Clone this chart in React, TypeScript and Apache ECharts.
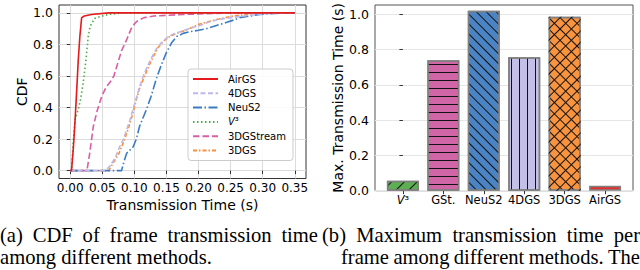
import React, { useEffect, useRef } from 'react';
import * as echarts from 'echarts';

// ---------- data ----------
const cdfSeriesNames = ['AirGS', '4DGS', 'NeuS2', 'V³', '3DGStream', '3DGS'];

const airgsCdf = [[0, 0], [0.002, 0], [0.005, 0.15], [0.008, 0.35], [0.011, 0.58], [0.0125, 0.7], [0.015, 0.85], [0.0178, 0.97], [0.022, 0.98], [0.033, 0.99], [0.06, 1.0], [0.35, 1.0]];
const fourDgsCdf = [[0, 0], [0.055, 0], [0.062, 0.03], [0.07, 0.08], [0.077, 0.15], [0.083, 0.2], [0.088, 0.26], [0.093, 0.32], [0.098, 0.39], [0.103, 0.46], [0.108, 0.53], [0.114, 0.6], [0.119, 0.65], [0.126, 0.71], [0.134, 0.77], [0.142, 0.81], [0.15, 0.84], [0.16, 0.865], [0.171, 0.88], [0.185, 0.9], [0.202, 0.92], [0.215, 0.94], [0.228, 0.955], [0.25, 0.97], [0.28, 0.985], [0.32, 1.0], [0.35, 1.0]];
const neus2Cdf = [[0, 0], [0.08, 0], [0.084, 0.06], [0.088, 0.11], [0.093, 0.13], [0.098, 0.15], [0.103, 0.2], [0.108, 0.28], [0.114, 0.34], [0.119, 0.39], [0.126, 0.47], [0.134, 0.58], [0.142, 0.67], [0.15, 0.75], [0.158, 0.81], [0.166, 0.85], [0.176, 0.87], [0.186, 0.88], [0.2, 0.89], [0.212, 0.9], [0.228, 0.92], [0.244, 0.94], [0.255, 0.955], [0.264, 0.97], [0.28, 0.98], [0.295, 0.99], [0.332, 1.0], [0.35, 1.0]];
const v3Cdf = [[0, 0], [0.002, 0], [0.005, 0.2], [0.008, 0.33], [0.012, 0.38], [0.016, 0.45], [0.02, 0.55], [0.0245, 0.7], [0.028, 0.85], [0.031, 0.915], [0.038, 0.965], [0.05, 0.98], [0.06, 0.99], [0.08, 1.0], [0.35, 1.0]];
const gsStreamCdf = [[0, 0], [0.026, 0], [0.03, 0.1], [0.036, 0.28], [0.042, 0.38], [0.049, 0.47], [0.056, 0.53], [0.062, 0.56], [0.068, 0.6], [0.074, 0.68], [0.08, 0.76], [0.088, 0.83], [0.095, 0.9], [0.1, 0.93], [0.105, 0.95], [0.115, 0.97], [0.13, 0.98], [0.176, 0.99], [0.25, 1.0], [0.35, 1.0]];
const threeDgsCdf = [[0, 0], [0.06, 0], [0.067, 0.05], [0.075, 0.1], [0.083, 0.18], [0.09, 0.26], [0.096, 0.34], [0.1, 0.4], [0.103, 0.45], [0.108, 0.52], [0.114, 0.58], [0.12, 0.64], [0.129, 0.72], [0.137, 0.78], [0.145, 0.82], [0.155, 0.85], [0.166, 0.87], [0.18, 0.89], [0.202, 0.93], [0.23, 0.96], [0.254, 0.98], [0.295, 1.0], [0.35, 1.0]];

const cdfXTicks = [0, 0.05, 0.1, 0.15, 0.2, 0.25, 0.3, 0.35];
const cdfYTicks = [0, 0.2, 0.4, 0.6, 0.8, 1.0];

const barCategories = ['V³', 'GSt.', 'NeuS2', '4DGS', '3DGS', 'AirGS'];
const barValues = [0.057, 0.74, 1.02, 0.757, 0.987, 0.028];
const barYTicks = [0, 0.2, 0.4, 0.6, 0.8, 1.0];

// ---------- styles ----------
const FONT = 'DejaVu Sans';
const SERIF = 'Liberation Serif';
const CAP_SIZE = 20.6;
const lineColors = ['#e41a1c', '#bcb9e6', '#3b7cc0', '#4daf4a', '#d95fa5', '#fd8d3c'];
const lineDashes: any[] = ['solid', [5, 2.5], [9, 2.5, 1.5, 2.5], [1.5, 2.5], [6.5, 3], [4, 2, 1.5, 2]];
const barColors = ['#5cb052', '#d066a6', '#4a84c4', '#c3bfe6', '#f8943f', '#e2302f'];
const hatch = (rot: number, gap: number) => ({
  symbol: 'rect', symbolSize: 1, dashArrayX: [1, 0], dashArrayY: [1, gap], rotation: rot, color: '#111',
});
const barDecals: any[] = [hatch(-Math.PI / 4, 8), hatch(0, 7), hatch(Math.PI / 4, 6), hatch(Math.PI / 2, 7), hatch(Math.PI / 4, 7), null];

function captionLine(ctx: CanvasRenderingContext2D, text: string, x0: number, x1: number | null, baseline: number) {
  const words = text.split(' ');
  const widths = words.map((w) => ctx.measureText(w).width);
  const total = widths.reduce((a, b) => a + b, 0);
  const space = ctx.measureText(' ').width;
  const gap = x1 === null || words.length < 2 ? space : (x1 - x0 - total) / (words.length - 1);
  let x = x0;
  return words.map((w, i) => {
    const el = {
      type: 'text', x, y: baseline - 6.6, silent: true,
      style: { text: w, font: `${CAP_SIZE}px "${SERIF}"`, fill: '#000', verticalAlign: 'middle', align: 'left' },
    };
    x += widths[i] + gap;
    return el;
  });
}

export default function App() {
  const ref = useRef<HTMLDivElement>(null);
  useEffect(() => {
    if (!ref.current) return;
    const chart = echarts.init(ref.current, null, { renderer: 'svg' });
    const canvas = document.createElement('canvas');
    const ctx = canvas.getContext('2d')!;
    ctx.font = `${CAP_SIZE}px "${SERIF}"`;
    const caption = [
      ...captionLine(ctx, '(a) CDF of frame transmission time', 0, 318, 242),
      ...captionLine(ctx, 'among different methods.', 0, null, 264),
      ...captionLine(ctx, '(b) Maximum transmission time per', 322, 640, 242),
      ...captionLine(ctx, 'frame among different methods. The', 341, 640, 264),
    ];
    const cdfData = [airgsCdf, fourDgsCdf, neus2Cdf, v3Cdf, gsStreamCdf, threeDgsCdf];
    const tick = { show: true, length: 3.5, lineStyle: { color: '#333', width: 1 } };

    const option: any = {
      animation: false,
      textStyle: { fontFamily: FONT },
      grid: [
        { left: 59, top: 5, width: 247, height: 173.5, show: true, borderColor: '#333', borderWidth: 1, backgroundColor: 'transparent' },
        { left: 375, top: 5, width: 258, height: 185.7, show: true, borderColor: '#555', borderWidth: 1, backgroundColor: 'transparent' },
      ],
      xAxis: [
        {
          type: 'value', gridIndex: 0, min: -0.0175, max: 0.3675,
          name: 'Transmission Time (s)', nameLocation: 'middle', nameGap: 11,
          nameTextStyle: { fontSize: 14, color: '#000', fontFamily: FONT },
          axisLine: { show: false },
          axisTick: { ...tick, customValues: cdfXTicks },
          axisLabel: { customValues: cdfXTicks, formatter: (v: number) => v.toFixed(2), fontSize: 12, color: '#000', margin: 3, fontFamily: FONT },
          splitLine: { show: true, lineStyle: { color: '#dcdcdc', width: 1 } },
        },
        {
          type: 'value', gridIndex: 1, min: -0.69, max: 5.69,
          axisLine: { show: false },
          axisTick: { ...tick, customValues: [0, 1, 2, 3, 4, 5] },
          axisLabel: {
            customValues: [0, 1, 2, 3, 4, 5], fontSize: 11.5, color: '#000', margin: 3, fontFamily: FONT,
            formatter: (v: number) => (barCategories[v] === 'V³' ? '{i|V}³' : barCategories[v]),
            rich: { i: { fontStyle: 'italic', fontSize: 11.5, fontFamily: FONT, color: '#000' } },
          },
          splitLine: { show: false },
        },
      ],
      yAxis: [
        {
          type: 'value', gridIndex: 0, min: -0.05, max: 1.05,
          name: 'CDF', nameLocation: 'middle', nameGap: 29,
          nameTextStyle: { fontSize: 14, color: '#000', fontFamily: FONT },
          axisLine: { show: false },
          axisTick: { ...tick, customValues: cdfYTicks },
          axisLabel: { customValues: cdfYTicks, formatter: (v: number) => v.toFixed(1), fontSize: 12.5, color: '#000', margin: 6, fontFamily: FONT },
          splitLine: { show: true, lineStyle: { color: '#dcdcdc', width: 1 } },
        },
        {
          type: 'value', gridIndex: 1, min: 0, max: 1.053,
          name: 'Max. Transmission Time (s)', nameLocation: 'middle', nameGap: 23,
          nameTextStyle: { fontSize: 14, color: '#000', fontFamily: FONT },
          axisLine: { show: false },
          axisTick: { ...tick, customValues: barYTicks },
          axisLabel: { customValues: barYTicks, formatter: (v: number) => v.toFixed(1), fontSize: 12.5, color: '#000', margin: 6, fontFamily: FONT },
          splitLine: { show: true, lineStyle: { color: '#e6e6e6', width: 1 } },
        },
      ],
      legend: {
        data: cdfSeriesNames,
        orient: 'vertical', left: 188, top: 69,
        padding: [5, 7, 5, 4], itemGap: 4.3, itemWidth: 25, itemHeight: 12,
        backgroundColor: 'rgba(255,255,255,0.85)', borderColor: '#cccccc', borderWidth: 1, borderRadius: 3,
        itemStyle: { opacity: 0 },
        textStyle: {
          fontSize: 10, color: '#000', fontFamily: FONT, padding: [0, 0, 0, 5],
          rich: { i: { fontStyle: 'italic', fontSize: 10, fontFamily: FONT, color: '#000' } },
        },
        formatter: (n: string) => (n === 'V³' ? '{i|V}³' : n),
      },
      series: [
        ...cdfSeriesNames.map((name, i) => ({
          type: 'line', name, xAxisIndex: 0, yAxisIndex: 0,
          data: cdfData[i], showSymbol: false, symbol: 'none', clip: false,
          z: 10 - i,
          lineStyle: { color: lineColors[i], width: 1.6, type: lineDashes[i] },
          itemStyle: { color: lineColors[i] },
        })),
        {
          type: 'bar', name: 'max', xAxisIndex: 1, yAxisIndex: 1, barWidth: 32, barGap: '-100%',
          data: barValues.map((v, i) => ({
            value: [i, v],
            itemStyle: { color: barColors[i], borderColor: '#808080', borderWidth: 1.5, ...(barDecals[i] ? { decal: barDecals[i] } : {}) },
          })),
          z: 3,
        },
        {
          type: 'bar', name: 'cross', xAxisIndex: 1, yAxisIndex: 1, barWidth: 32, barGap: '-100%',
          data: [[4, barValues[4]]],
          itemStyle: { color: 'rgba(0,0,0,0)', borderWidth: 0, decal: hatch(-Math.PI / 4, 7) },
          z: 4,
        },
      ],
      graphic: caption,
    };
    chart.setOption(option);
    return () => chart.dispose();
  }, []);
  return <div ref={ref} style={{ position: 'absolute', left: 0, top: 0, width: 640, height: 270, background: '#fff' }} />;
}
